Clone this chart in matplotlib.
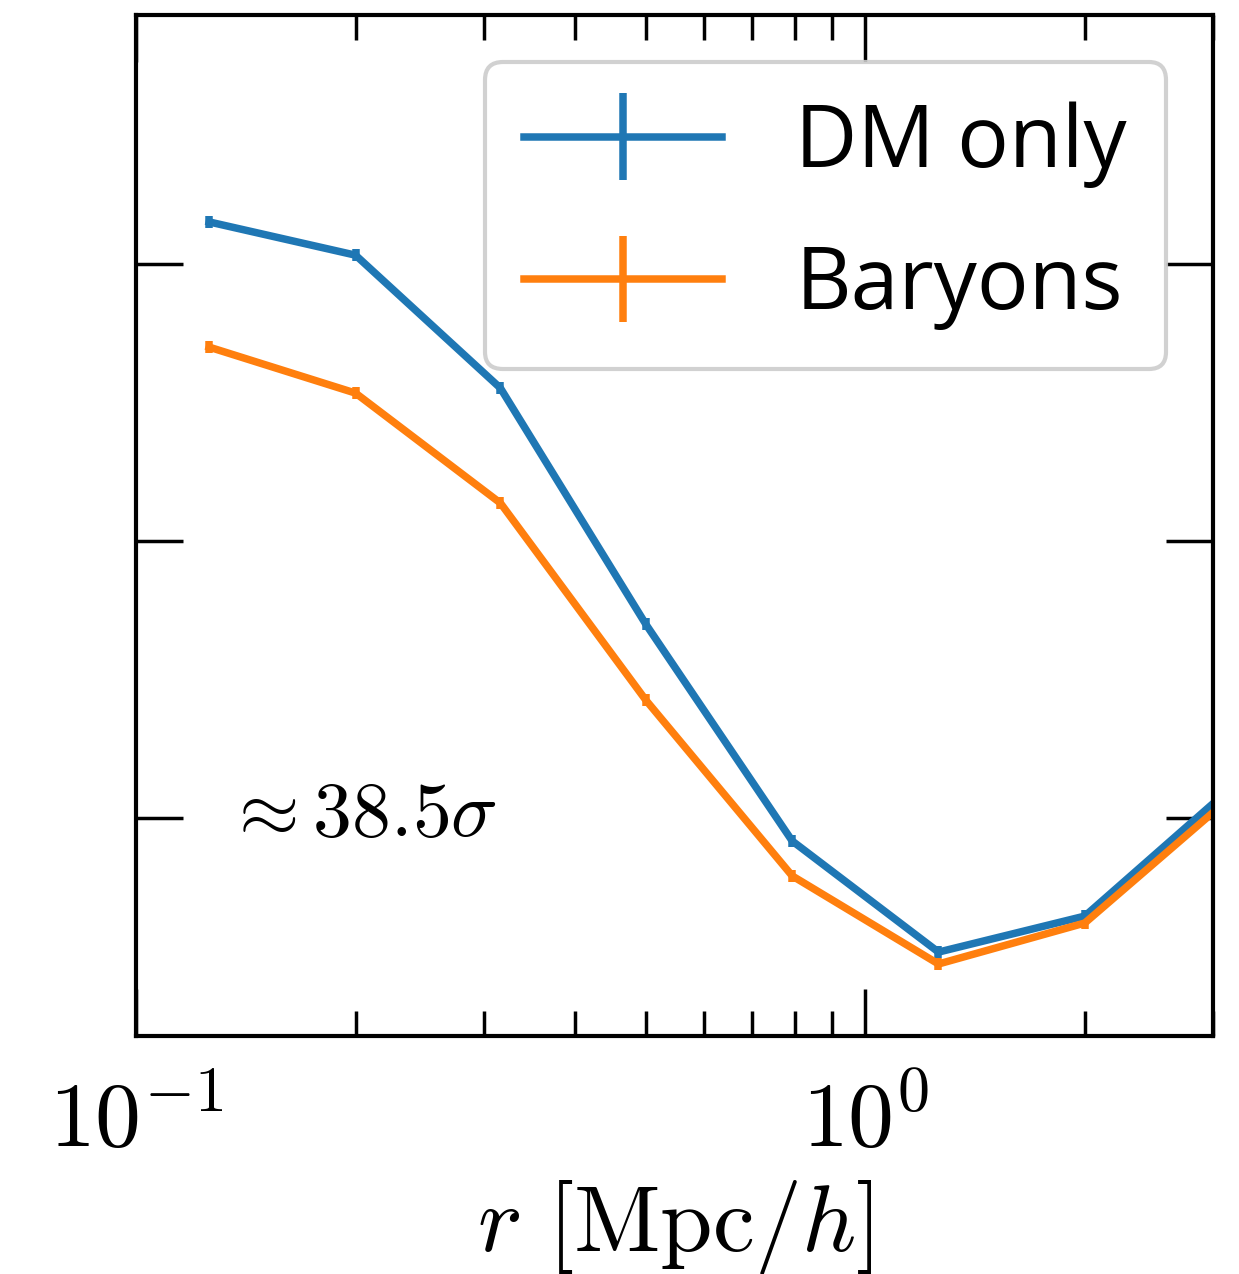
import numpy as np
import matplotlib
matplotlib.use("Agg")
import matplotlib.pyplot as plt

plt.rcParams['mathtext.fontset'] = 'cm'
plt.rcParams['font.family'] = ['Open Sans', 'DejaVu Sans']

# radial bins [Mpc/h]
r = [0.126, 0.2, 0.316, 0.5, 0.794, 1.26, 2.0, 3.16]

# arbitrary units (y tick labels are hidden in the original)
dm_only = [3.152, 3.032, 2.552, 1.700, 0.917, 0.516, 0.646, 1.105]
baryons = [2.700, 2.534, 2.137, 1.426, 0.791, 0.473, 0.621, 1.072]
dm_err = [0.022] * 8
bar_err = [0.022] * 8

xtick_pos = [0.1, 1.0]
xtick_lab = [r'$10^{-1}$', r'$10^{0}$']

fig = plt.figure(figsize=(12.39, 12.74), dpi=100)
ax = fig.add_axes([0.1098, 0.1868, 0.8694, 0.8014])

ax.errorbar(r, dm_only, yerr=dm_err, color='#1f77b4', lw=5.4, capsize=0,
            label='DM only')
ax.errorbar(r, baryons, yerr=bar_err, color='#ff7f0e', lw=5.4, capsize=0,
            label='Baryons')

ax.set_xscale('log')
ax.set_xlim(0.1, 3.0)
ax.set_ylim(0.213, 3.899)
ax.set_xticks(xtick_pos)
ax.set_xticklabels(xtick_lab)
ax.set_yticks([1, 2, 3])
ax.set_yticklabels([])

ax.tick_params(which='both', direction='in', top=True, right=True, width=2.5)
ax.tick_params(which='major', length=34, labelsize=66, pad=30)
ax.tick_params(which='minor', length=18)
for s in ax.spines.values():
    s.set_linewidth(3)

ax.set_xlabel(r'$r\ [\mathrm{Mpc}/h]$', fontsize=68, labelpad=6)
ax.text(0.083, 0.216, r'$\approx 38.5\sigma$', transform=ax.transAxes,
        fontsize=56, va='center', ha='left')

leg = ax.legend(loc='upper right', fontsize=62, handlelength=2.3,
                handletextpad=0.85, borderaxespad=0.55, labelspacing=0.65,
                borderpad=0.45, framealpha=0.9, fancybox=True)
leg.get_frame().set_linewidth(3)
leg.get_frame().set_edgecolor('#cccccc')

fig.savefig('out.png', dpi=100)
